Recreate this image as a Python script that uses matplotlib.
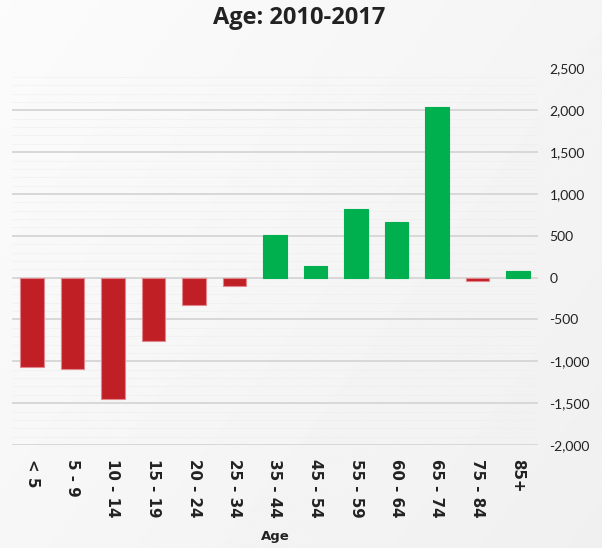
import numpy as np
import matplotlib
matplotlib.use("Agg")
import matplotlib.pyplot as plt
from matplotlib.ticker import MultipleLocator, FuncFormatter

# Net change in population by age group, 2010-2017
age_groups = ["< 5", "5 - 9", "10 - 14", "15 - 19", "20 - 24", "25 - 34",
              "35 - 44", "45 - 54", "55 - 59", "60 - 64", "65 - 74",
              "75 - 84", "85+"]
change = [-1070, -1090, -1450, -760, -330, -105,
          510, 140, 820, 665, 2040, -35, 80]

title = "Age: 2010-2017"
x_label = "Age"

RED = "#c01f26"
RED_EDGE = "#e3868b"
GREEN = "#00b04f"

fig = plt.figure(figsize=(6.02, 5.48), dpi=100)

# soft light-grey backdrop, slightly brighter toward the upper left
bg = fig.add_axes([0, 0, 1, 1], zorder=-10)
yy, xx = np.mgrid[0:1:200j, 0:1:200j]
shade = 0.985 - 0.045 * (0.6 * xx + 0.4 * yy)
bg.imshow(shade, cmap="gray", vmin=0, vmax=1, aspect="auto",
          extent=[0, 1, 0, 1], origin="upper", interpolation="bilinear")
bg.axis("off")

ax = fig.add_axes([11.75 / 602, 1 - 445 / 548, (538.25 - 11.75) / 602,
                   (445 - 68.5) / 548])
ax.set_facecolor("none")

x = np.arange(len(age_groups))
colors = [GREEN if v >= 0 else RED for v in change]
edges = [GREEN if v >= 0 else RED_EDGE for v in change]
ax.bar(x, change, width=0.59, color=colors, edgecolor=edges,
       linewidth=0.8, zorder=3)

ax.set_xlim(-0.5, len(age_groups) - 0.5)
ax.set_ylim(-2000, 2500)
ax.yaxis.set_major_locator(MultipleLocator(500))
ax.yaxis.set_minor_locator(MultipleLocator(100))
ax.grid(axis="y", which="major", color="#d8d8d8", linewidth=1.4, zorder=0)
ax.grid(axis="y", which="minor", color="#ebebeb", linewidth=0.6,
        alpha=0.5, zorder=0)
ax.set_axisbelow(True)

for s in ax.spines.values():
    s.set_visible(False)

ax.yaxis.tick_right()
ax.yaxis.set_major_formatter(FuncFormatter(lambda v, p: f"{int(v):,}"))
ax.tick_params(axis="y", which="both", length=0, pad=8,
               labelsize=10, labelcolor="#222222")
for lbl in ax.get_yticklabels():
    lbl.set_fontfamily("Lato")

ax.set_xticks(x)
ax.set_xticklabels(age_groups, rotation=-90, fontsize=10.8,
                   fontweight="bold", fontfamily="DejaVu Sans",
                   color="#222222", va="top", ha="center")
ax.tick_params(axis="x", length=0, pad=10)

ax.set_xlabel(x_label, fontsize=9.5, fontweight="bold",
              fontfamily="DejaVu Sans", color="#222222", labelpad=9)

fig.text(0.497, 1 - 18 / 548, title, ha="center", va="center",
         fontsize=17, fontweight="bold", fontfamily="Open Sans",
         color="#222222")

fig.savefig("out.png", dpi=100)
